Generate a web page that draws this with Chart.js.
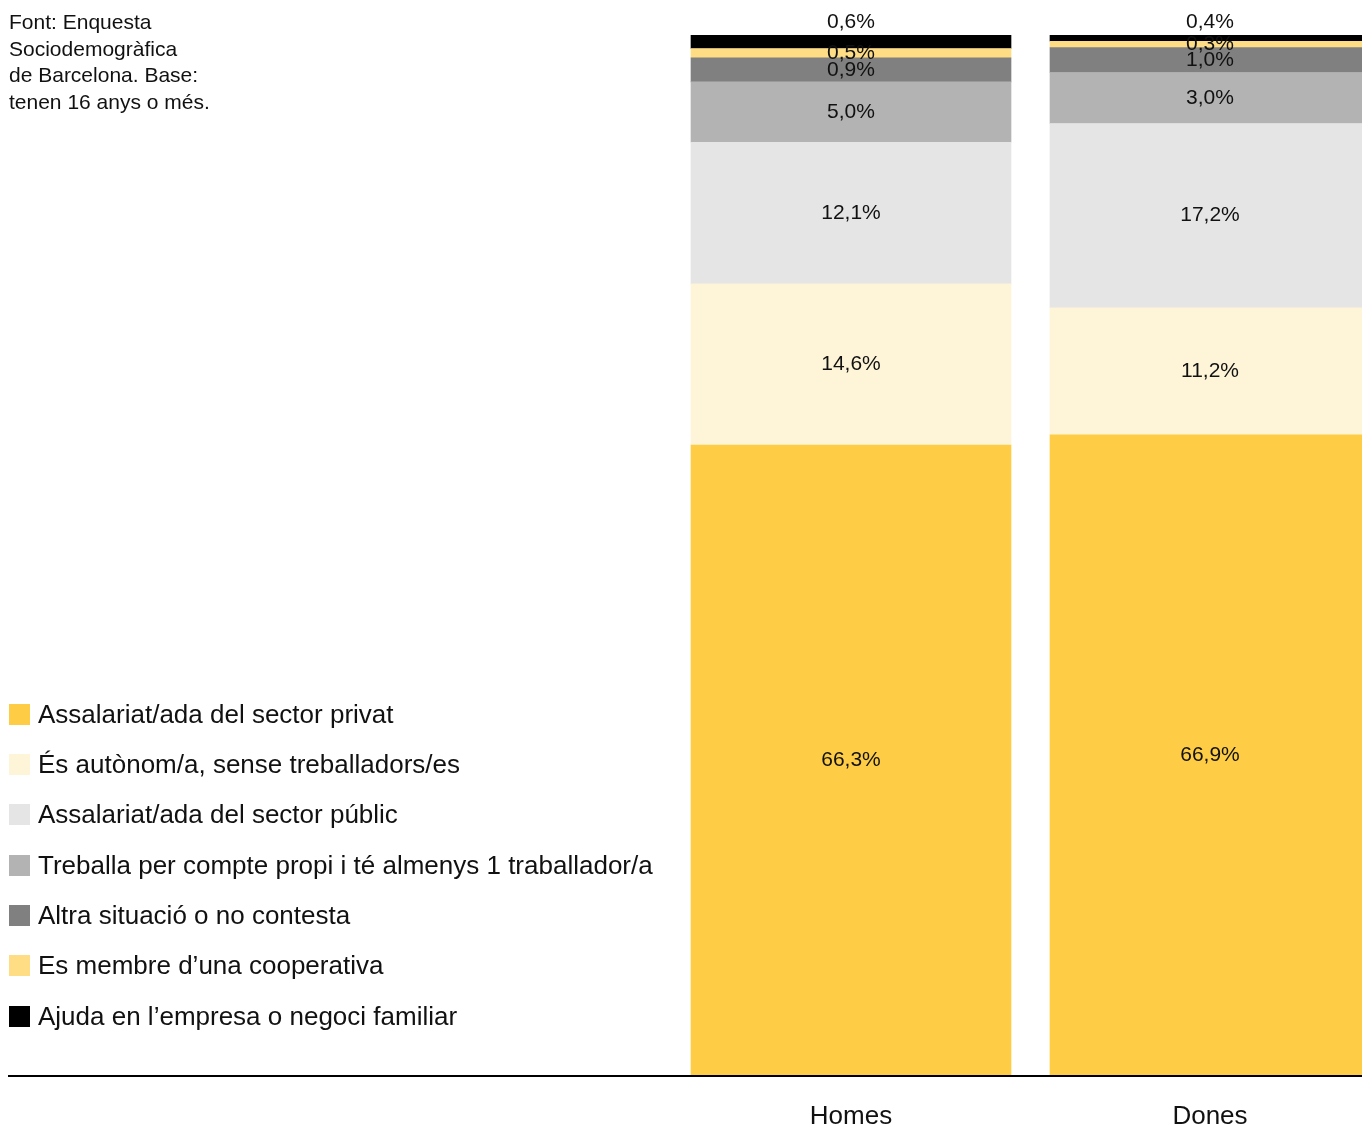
<!DOCTYPE html>
<html lang="ca">
<head>
<meta charset="utf-8">
<title>Situació laboral per sexe</title>
<script src="https://cdn.jsdelivr.net/npm/chart.js@4.4.1/dist/chart.umd.min.js"></script>
<style>
  html, body { margin: 0; padding: 0; background: #fff; overflow: hidden; }
  #wrap { position: relative; width: 1362px; height: 1124px; }
  #note { position: absolute; left: 9px; top: 9px; font: 21px/26.7px "Liberation Sans", Arial, sans-serif; color: #111; }
  #legend { position: absolute; left: 9px; top: 689px; margin: 0; padding: 0; list-style: none; font: 26px "Liberation Sans", Arial, sans-serif; color: #111; }
  #legend li { display: flex; align-items: center; height: 50.33px; white-space: nowrap; }
  #legend .box { width: 21px; height: 21px; margin-right: 8px; flex: none; }
</style>
</head>
<body>
<div id="wrap">
  <canvas id="chart"></canvas>
  <div id="note">Font: Enquesta<br>Sociodemogràfica<br>de Barcelona. Base:<br>tenen 16 anys o més.</div>
  <ul id="legend"></ul>
</div>
<script>
//categories on the x axis
var categories = ['Homes', 'Dones'];

//series, from the bottom of the stack to the top (same order as the legend)
var series = [
  'Assalariat/ada del sector privat',
  'És autònom/a, sense treballadors/es',
  'Assalariat/ada del sector públic',
  'Treballa per compte propi i té almenys 1 traballador/a',
  'Altra situació o no contesta',
  'Es membre d\u2019una cooperativa',
  'Ajuda en l\u2019empresa o negoci familiar'
];
var colors = ['#ffcd45', '#fef4d8', '#e5e5e5', '#b3b3b3', '#808080', '#ffdd85', '#000000'];

//bar heights as they are drawn in the picture (%)
var homesValues = [60.6, 15.5, 13.6, 5.8, 2.3, 0.9, 1.3];
var donesValues = [61.6, 12.2, 17.7, 4.9, 2.4, 0.6, 0.6];

//percentages printed on the bars
var homesLabels = ['66,3%', '14,6%', '12,1%', '5,0%', '0,9%', '0,5%', '0,6%'];
var donesLabels = ['66,9%', '11,2%', '17,2%', '3,0%', '1,0%', '0,3%', '0,4%'];

//build the datasets
var datasets = series.map(function (name, i) {
  return {
    label: name,
    data: [{ x: 0, y: homesValues[i] }, { x: 1, y: donesValues[i] }],
    valueLabels: [homesLabels[i], donesLabels[i]],
    backgroundColor: colors[i],
    borderWidth: 0,
    barThickness: 320
  };
});

//write the percentages on the bars
var barLabels = {
  id: 'barLabels',
  afterDatasetsDraw: function (chart) {
    var ctx = chart.ctx;
    var last = chart.data.datasets.length - 1;
    ctx.save();
    ctx.font = '21px "Liberation Sans", Arial, sans-serif';
    ctx.fillStyle = '#111';
    ctx.textAlign = 'center';
    ctx.textBaseline = 'middle';
    chart.data.datasets.forEach(function (ds, i) {
      chart.getDatasetMeta(i).data.forEach(function (bar, j) {
        var y = (bar.y + bar.base) / 2;
        //the top segment gets its label above the bar
        if (i == last) y = bar.y - 13;
        ctx.fillText(ds.valueLabels[j], bar.x, y);
      });
    });
    ctx.restore();
  }
};

//legend as a html list
var htmlLegend = {
  id: 'htmlLegend',
  afterUpdate: function (chart) {
    var ul = document.getElementById('legend');
    ul.innerHTML = '';
    chart.data.datasets.forEach(function (ds) {
      var li = document.createElement('li');
      var box = document.createElement('span');
      box.className = 'box';
      box.style.background = ds.backgroundColor;
      li.appendChild(box);
      li.appendChild(document.createTextNode(ds.label));
      ul.appendChild(li);
    });
  }
};

Chart.defaults.font.family = '"Liberation Sans", Arial, sans-serif';
Chart.defaults.color = '#111';

var chart = new Chart(document.getElementById('chart'), {
  type: 'bar',
  data: { datasets: datasets },
  options: {
    responsive: true,
    maintainAspectRatio: false,
    animation: false,
    layout: { padding: { left: 9, top: 35, right: 0, bottom: 0 } },
    plugins: {
      legend: { display: false },
      tooltip: { enabled: false }
    },
    scales: {
      x: {
        type: 'linear',
        stacked: true,
        offset: false,
        min: -2.3454,
        max: 1.4234,
        grid: { display: true, offset: false, drawOnChartArea: false, drawTicks: false },
        border: { display: true, color: '#000', width: 2, z: 1 },
        afterBuildTicks: function (axis) {
          axis.ticks = categories.map(function (c, i) { return { value: i }; });
        },
        afterFit: function (axis) { axis.height = 48; },
        ticks: {
          padding: 25,
          font: { size: 26 },
          callback: function (value) { return categories[value]; }
        }
      },
      y: { stacked: true, min: 0, max: 100, display: false }
    }
  },
  plugins: [barLabels, htmlLegend]
});
</script>
</body>
</html>
